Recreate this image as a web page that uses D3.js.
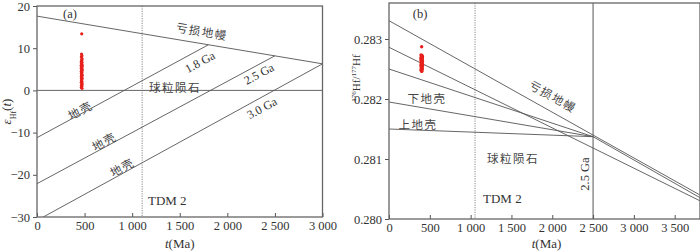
<!DOCTYPE html>
<html>
<head>
<meta charset="utf-8">
<script src="https://cdn.jsdelivr.net/npm/d3@7"></script>
<style>
  body { margin: 0; background: #fff; }
  svg { display: block; }
  .tick text { font-family: "Liberation Serif", "DejaVu Serif", serif; font-size: 12.5px; fill: #333; }
  .tick line { stroke: #555; stroke-width: 1; }
  .frame { fill: none; stroke: #666; stroke-width: 1.3; }
  .evo { fill: none; stroke: #555; stroke-width: 0.9; }
  .tdm { stroke: #888; stroke-width: 1; stroke-dasharray: 1.2,1.2; }
  .serif { font-family: "Liberation Serif", "DejaVu Serif", serif; fill: #333; }
  .cjk { font-family: "Noto Sans CJK SC", sans-serif; fill: #444; font-size: 11.5px; letter-spacing: 1.5px; }
</style>
</head>
<body>
<svg id="chart" width="700" height="251"></svg>
<script>
// ---- panel (a): εHf(t) vs t ----
const aTicksX = [0, 500, 1000, 1500, 2000, 2500, 3000];
const aTicksY = [-30, -20, -10, 0, 10, 20];
const aDepletedMantle = [[0, 17.6], [3000, 6.3]];
const aChondrite = [[0, 0], [3000, 0]];
const aCrust18 = [[0, -11.2], [1800, 10.8]];
const aCrust25 = [[0, -22.1], [2500, 8.2]];
const aCrust30 = [[66, -30], [3000, 6.3]];
const aTdm = 1105;
// zircon spots (t in Ma, εHf)
const aSpotT = [470, 468, 472, 466, 474, 469, 471, 465, 473, 467, 470, 475, 464, 472, 468, 471, 466, 474, 469, 473,
                465, 470, 467, 472, 469, 474, 466, 471, 468, 473, 470, 467, 472, 469, 465, 474, 471, 468, 470, 466, 473];
const aSpotE = [13.4, 8.6, 8.2, 7.9, 7.5, 7.2, 7.0, 6.8, 6.6, 6.4, 6.1, 6.0, 5.9, 5.7, 5.5, 5.4, 5.2, 5.0, 4.8, 4.6,
                4.5, 4.3, 4.0, 3.8, 3.6, 3.5, 3.3, 3.0, 2.9, 2.8, 2.6, 2.3, 2.1, 2.0, 1.9, 1.6, 1.3, 1.2, 1.0, 0.7, 0.5];

// ---- panel (b): 176Hf/177Hf vs t ----
const bTicksX = [0, 500, 1000, 1500, 2000, 2500, 3000, 3500];
const bTicksY = [0.280, 0.281, 0.282, 0.283];
const bDepletedMantle = [[0, 0.283305], [3810, 0.280400]];
const bChondrite = [[0, 0.282862], [3810, 0.280303]];
const bCrustMafic = [[0, 0.282500], [2500, 0.281372]];
const bLowerCrust = [[0, 0.281950], [2500, 0.281372]];
const bUpperCrust = [[0, 0.281500], [2500, 0.281372]];
const bNewCrust = [[2500, 0.281372], [3810, 0.280355]];
const bTdm = 1054;
const bAge = 2500;
const bSpotT = [400, 392, 405, 398, 410, 395, 402, 408, 390, 404, 397, 406, 400, 393, 409, 399, 403, 396, 407, 401,
                394, 405, 398, 410, 391, 402, 406, 397, 400, 404, 395, 408, 399, 393, 403, 401];
const bSpotV = [0.282870, 0.282735, 0.282725, 0.282715, 0.282705, 0.282698, 0.282690, 0.282682, 0.282675, 0.282668,
                0.282660, 0.282652, 0.282645, 0.282638, 0.282630, 0.282622, 0.282615, 0.282608, 0.282600, 0.282592,
                0.282585, 0.282578, 0.282570, 0.282562, 0.282555, 0.282548, 0.282540, 0.282532, 0.282525, 0.282518,
                0.282510, 0.282500, 0.282490, 0.282480, 0.282470, 0.282460];

const svg = d3.select("#chart");
const spaced = d => d >= 1000 ? d3.format(",")(d).replace(",", " ") : String(d);
const line = (x, y) => d3.line().x(d => x(d[0])).y(d => y(d[1]));
const angleOf = (x, y, seg) => Math.atan2(y(seg[1][1]) - y(seg[0][1]), x(seg[1][0]) - x(seg[0][0])) * 180 / Math.PI;

function panel(g, x, y, ticksX, ticksY, fmtY) {
    const [x0, x1] = x.range(), [y1, y0] = y.range();
    g.append("g").attr("transform", `translate(0,${y1})`)
        .call(d3.axisBottom(x).tickValues(ticksX).tickSize(-4).tickPadding(4).tickFormat(spaced))
        .call(a => a.select(".domain").remove());
    g.append("g").attr("transform", `translate(${x0},0)`)
        .call(d3.axisLeft(y).tickValues(ticksY).tickSize(4).tickPadding(3).tickFormat(fmtY))
        .call(a => a.select(".domain").remove());
    g.append("rect").attr("class", "frame")
        .attr("x", x0).attr("y", y0).attr("width", x1 - x0).attr("height", y1 - y0);
}

function label(g, cls, txt, px, py, rot, size) {
    const t = g.append("text").attr("class", cls)
        .attr("text-anchor", "middle").attr("dominant-baseline", "central")
        .attr("transform", `translate(${px},${py}) rotate(${rot || 0})`)
        .text(txt);
    if (size) t.style("font-size", size + "px");
    return t;
}

// ---------- panel a ----------
const xA = d3.scaleLinear().domain([0, 3000]).range([37, 322.5]);
const yA = d3.scaleLinear().domain([-30, 20]).range([217, 6]);
const gA = svg.append("g");
svg.append("clipPath").attr("id", "clipA").append("rect")
    .attr("x", 37).attr("y", 6).attr("width", 285.5).attr("height", 211);

gA.append("line").attr("class", "tdm")
    .attr("x1", xA(aTdm)).attr("x2", xA(aTdm)).attr("y1", yA(20)).attr("y2", yA(-30));

gA.selectAll("path.evo")
    .data([aDepletedMantle, aChondrite, aCrust18, aCrust25, aCrust30])
    .join("path").attr("class", "evo").attr("clip-path", "url(#clipA)")
    .attr("d", line(xA, yA));

gA.selectAll("circle.spot").data(aSpotT).join("circle").attr("class", "spot")
    .attr("cx", d => xA(d)).attr("cy", (d, i) => yA(aSpotE[i])).attr("r", 1.6)
    .attr("fill", "#e8201c");

panel(gA, xA, yA, aTicksX, aTicksY, d => d < 0 ? "\u2212" + (-d) : d);

const rotA = angleOf(xA, yA, aCrust25);
label(gA, "serif", "(a)", xA(347), yA(18.1), 0, 12.5);
label(gA, "cjk", "亏损地幔", xA(1734), yA(14.1), angleOf(xA, yA, aDepletedMantle));
label(gA, "serif", "1.8 Ga", xA(1713), yA(6.7), rotA, 12);
label(gA, "serif", "2.5 Ga", xA(2333), yA(3.9), rotA, 12);
label(gA, "serif", "3.0 Ga", xA(2364), yA(-4.2), rotA, 12);
label(gA, "cjk", "球粒陨石", xA(1450), yA(0.9), 0);
label(gA, "cjk", "地壳", xA(452), yA(-4.6), rotA);
label(gA, "cjk", "地壳", xA(704), yA(-12.0), rotA);
label(gA, "cjk", "地壳", xA(893), yA(-18.1), rotA);
gA.append("text").attr("class", "serif").style("font-size", "13px")
    .attr("x", xA(1166)).attr("y", yA(-27.1)).text("TDM 2");

const xlA = gA.append("text").attr("class", "serif").style("font-size", "13px")
    .attr("text-anchor", "middle").attr("x", xA(1500)).attr("y", 248);
xlA.append("tspan").style("font-style", "italic").text("t");
xlA.append("tspan").text("(Ma)");

const ylA = gA.append("text").attr("class", "serif").style("font-size", "13px")
    .attr("text-anchor", "middle").attr("transform", `translate(11,${yA(-5)}) rotate(-90)`);
ylA.append("tspan").style("font-style", "italic").text("ε");
ylA.append("tspan").attr("baseline-shift", "sub").style("font-size", "8px").text("Hf");
ylA.append("tspan").text("(");
ylA.append("tspan").style("font-style", "italic").text("t");
ylA.append("tspan").text(")");

// ---------- panel b ----------
const xB = d3.scaleLinear().domain([0, 3810]).range([389, 700]);
const yB = d3.scaleLinear().domain([0.280, 0.2836]).range([219, 3]);
const gB = svg.append("g");
svg.append("clipPath").attr("id", "clipB").append("rect")
    .attr("x", 389).attr("y", 3).attr("width", 311).attr("height", 216);

gB.append("line").attr("class", "tdm")
    .attr("x1", xB(bTdm)).attr("x2", xB(bTdm)).attr("y1", yB.range()[1]).attr("y2", yB.range()[0]);
gB.append("line").attr("stroke", "#666").attr("stroke-width", 1.1)
    .attr("x1", xB(bAge)).attr("x2", xB(bAge)).attr("y1", yB.range()[1]).attr("y2", yB.range()[0]);

gB.selectAll("path.evo")
    .data([bDepletedMantle, bChondrite, bCrustMafic, bLowerCrust, bUpperCrust, bNewCrust])
    .join("path").attr("class", "evo").attr("clip-path", "url(#clipB)")
    .attr("d", line(xB, yB));

gB.selectAll("circle.spot").data(bSpotT).join("circle").attr("class", "spot")
    .attr("cx", d => xB(d)).attr("cy", (d, i) => yB(bSpotV[i])).attr("r", 1.7)
    .attr("fill", "#e8201c");

panel(gB, xB, yB, bTicksX, bTicksY, d3.format(".3f"));

label(gB, "serif", "(b)", xB(380), yB(0.283417), 0, 12.5);
label(gB, "cjk", "亏损地幔", xB(2010), yB(0.28205), angleOf(xB, yB, bDepletedMantle));
label(gB, "cjk", "下地壳", xB(466), yB(0.282017), 0);
label(gB, "cjk", "上地壳", xB(355), yB(0.281583), 0);
label(gB, "cjk", "球粒陨石", xB(1520), yB(0.281017), 0);
label(gB, "serif", "2.5 Ga", xB(2402), yB(0.28075), -90, 12.5);
gB.append("text").attr("class", "serif").style("font-size", "13px")
    .attr("x", xB(1152)).attr("y", yB(0.280267)).text("TDM 2");

const xlB = gB.append("text").attr("class", "serif").style("font-size", "13px")
    .attr("text-anchor", "middle").attr("x", xB(1930)).attr("y", 248);
xlB.append("tspan").style("font-style", "italic").text("t");
xlB.append("tspan").text("(Ma)");

const ylB = gB.append("text").attr("class", "serif").style("font-size", "11px")
    .attr("text-anchor", "middle").attr("transform", `translate(360,${yB(0.28235)}) rotate(-90)`);
ylB.append("tspan").attr("baseline-shift", "super").style("font-size", "7px").text("176");
ylB.append("tspan").text("Hf/");
ylB.append("tspan").attr("baseline-shift", "super").style("font-size", "7px").text("177");
ylB.append("tspan").text("Hf");
</script>
</body>
</html>
